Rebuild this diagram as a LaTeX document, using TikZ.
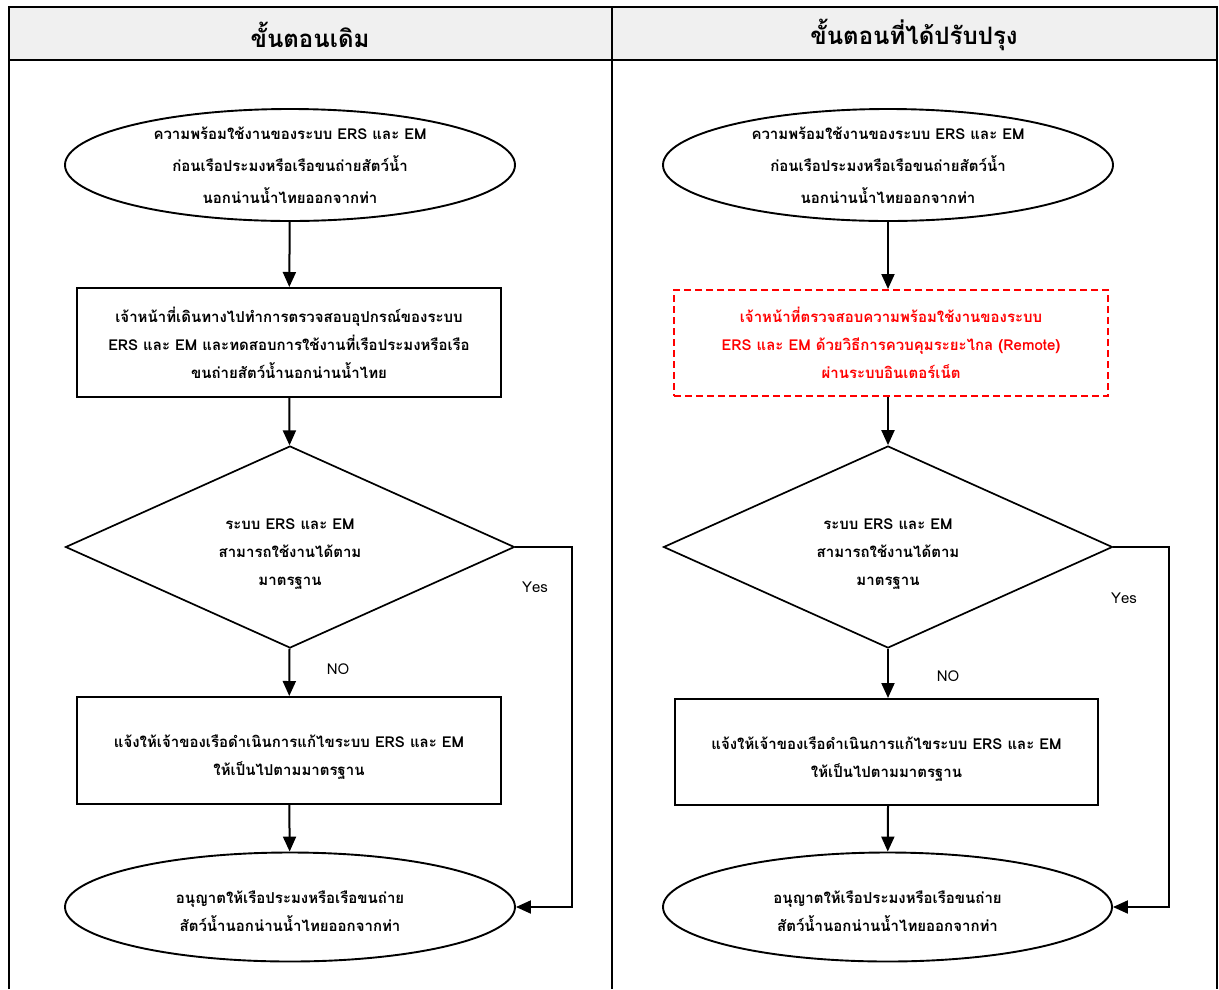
\documentclass[tikz,border=0pt]{standalone}
\usepackage{fontspec}
\usepackage{tikz}
\usetikzlibrary{shapes.geometric,arrows.meta}
\newfontfamily\thaifont[Script=Thai]{Loma}
\definecolor{headgrey}{HTML}{F0F0F0}
\definecolor{remred}{HTML}{FF0000}
\newcommand{\droptext}[1]{\rule{0pt}{#1}}

\tikzset{
    boxtext/.style={font=\thaifont\bfseries\fontsize{15}{28}\selectfont, align=center},
    startstop/.style={ellipse, draw, line width=1.9pt, inner sep=0pt, boxtext},
    procbox/.style={rectangle, draw, line width=2pt, inner sep=0pt, boxtext},
    decision/.style={diamond, aspect=2.22, draw, line width=1.7pt, inner sep=0pt, boxtext},
    arr/.style={line width=2pt, -{Triangle[length=15pt,width=13pt]}},
    branchlbl/.style={font=\thaifont\fontsize{15}{18}\selectfont},
}

\begin{document}
\begin{tikzpicture}[x=1pt,y=-1pt]
    \useasboundingbox (0,0) rectangle (1219,989);
    % table frame
    \fill [headgrey] (9,7) rectangle (1217,60);
    \begin{scope}[line width=2pt]
    \draw (9,989) -- (9,7) -- (1217,7) -- (1217,989);
    \draw (9,60) -- (1217,60);
    \draw (612,7) -- (612,989);
    \end{scope}
    \node (headL) at (310,35) {\thaifont\bfseries\fontsize{24}{28}\selectfont ขั้นตอนเดิม};
    \node (headR) at (914,35) {\thaifont\bfseries\fontsize{24}{28}\selectfont ขั้นตอนที่ได้ปรับปรุง};

    % left column
    \node [startstop, minimum width=450pt, minimum height=112pt] (startL) at (290,165)
        {ความพร้อมใช้งานของระบบ ERS และ EM\\[4pt] ก่อนเรือประมงหรือเรือขนถ่ายสัตว์น้ำ\\[4pt] นอกน่านน้ำไทยออกจากท่า};
    \node [procbox, minimum width=424pt, minimum height=109pt] (checkL) at (289,342.5)
        {เจ้าหน้าที่เดินทางไปทำการตรวจสอบอุปกรณ์ของระบบ\\ ERS และ EM และทดสอบการใช้งานที่เรือประมงหรือเรือ\\ ขนถ่ายสัตว์น้ำนอกน่านน้ำไทย};
    \node [decision, minimum width=449pt, minimum height=202pt] (decL) at (290,547)
        {\droptext{25pt}ระบบ ERS และ EM\\ สามารถใช้งานได้ตาม\\ มาตรฐาน};
    \node [procbox, minimum width=424pt, minimum height=107pt] (fixL) at (289,750.5)
        {\droptext{26pt}แจ้งให้เจ้าของเรือดำเนินการแก้ไขระบบ ERS และ EM\\ ให้เป็นไปตามมาตรฐาน};
    \node [startstop, minimum width=450pt, minimum height=109pt] (endL) at (290,907)
        {\droptext{22pt}อนุญาตให้เรือประมงหรือเรือขนถ่าย\\ สัตว์น้ำนอกน่านน้ำไทยออกจากท่า};
    \coordinate (yesL) at (572,547);
    \node [branchlbl] (noL) at (338,669) {NO};
    \node [branchlbl] (yesLblL) at (535,587) {Yes};

    \draw [arr] (startL) -- (checkL);
    \draw [arr] (checkL) -- (decL);
    \draw [arr] (decL) -- (fixL);
    \draw [arr] (fixL) -- (endL);
    \draw [arr] (decL.east) -- (yesL) |- (endL.east);

    % right column
    \node [startstop, minimum width=450pt, minimum height=112pt] (startR) at (888,165)
        {ความพร้อมใช้งานของระบบ ERS และ EM\\[4pt] ก่อนเรือประมงหรือเรือขนถ่ายสัตว์น้ำ\\[4pt] นอกน่านน้ำไทยออกจากท่า};
    \node [procbox, draw=remred, text=remred, dashed, dash pattern=on 7pt off 4pt, minimum width=434pt, minimum height=106pt] (checkR) at (891,343)
        {เจ้าหน้าที่ตรวจสอบความพร้อมใช้งานของระบบ\\ ERS และ EM ด้วยวิธีการควบคุมระยะไกล (Remote)\\ ผ่านระบบอินเตอร์เน็ต};
    \node [decision, minimum width=449pt, minimum height=202pt] (decR) at (888,547)
        {\droptext{25pt}ระบบ ERS และ EM\\ สามารถใช้งานได้ตาม\\ มาตรฐาน};
    \node [procbox, minimum width=423pt, minimum height=106pt] (fixR) at (886.5,752)
        {\droptext{26pt}แจ้งให้เจ้าของเรือดำเนินการแก้ไขระบบ ERS และ EM\\ ให้เป็นไปตามมาตรฐาน};
    \node [startstop, minimum width=449pt, minimum height=109pt] (endR) at (887.5,907)
        {\droptext{22pt}อนุญาตให้เรือประมงหรือเรือขนถ่าย\\ สัตว์น้ำนอกน่านน้ำไทยออกจากท่า};
    \coordinate (yesR) at (1169,547);
    \node [branchlbl] (noR) at (948,676) {NO};
    \node [branchlbl] (yesLblR) at (1124,598) {Yes};

    \draw [arr] (startR) -- (startR |- checkR.north);
    \draw [arr] (startR |- checkR.south) -- (decR);
    \draw [arr] (decR) -- (decR |- fixR.north);
    \draw [arr] (decR |- fixR.south) -- (endR);
    \draw [arr] (decR.east) -- (yesR) |- (endR.east);
\end{tikzpicture}
\end{document}
